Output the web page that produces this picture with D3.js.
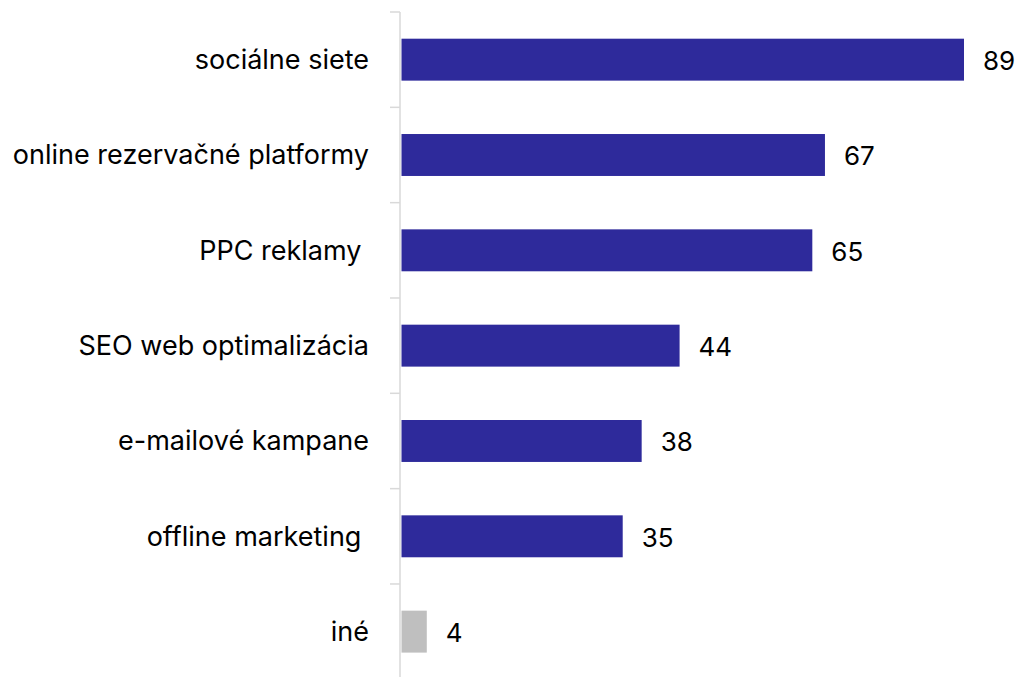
<!DOCTYPE html>
<html>
<head>
<meta charset="utf-8">
<script src="https://cdn.jsdelivr.net/npm/d3@7"></script>
<style>
  html, body { margin: 0; padding: 0; background: #fff; }
  svg text { font-family: "Inter", "Noto Sans", sans-serif; fill: #000; }
</style>
</head>
<body>
<svg id="chart" width="1020" height="677"></svg>
<script>
// Marketing channels and their counts
const categories = [
  "sociálne siete",
  "online rezervačné platformy",
  "PPC reklamy ",
  "SEO web optimalizácia",
  "e-mailové kampane",
  "offline marketing ",
  "iné"
];
const values = [89, 67, 65, 44, 38, 35, 4];
const barColors = ["#2E2A9B", "#2E2A9B", "#2E2A9B", "#2E2A9B", "#2E2A9B", "#2E2A9B", "#BFBFBF"];

const data = categories.map((c, i) => ({ cat: c, val: values[i], color: barColors[i] }));

const svg = d3.select("#chart");
const axisX = 400;

const x = d3.scaleLinear().domain([0, 89]).range([axisX + 1.5, 964]);
const y = d3.scaleBand().domain(categories).range([12, 679.3]).paddingInner(0.56).paddingOuter(0.28);

// category boundary ticks and the vertical axis line
const bandStep = y.step();
const boundaries = d3.range(categories.length + 1).map(i => 12 + i * bandStep);
svg.append("g").selectAll("line").data(boundaries).join("line")
  .attr("x1", axisX - 10).attr("x2", axisX)
  .attr("y1", d => d).attr("y2", d => d)
  .attr("stroke", "#d9d9d9").attr("stroke-width", 1.5);
svg.append("line")
  .attr("x1", axisX).attr("x2", axisX)
  .attr("y1", 12).attr("y2", 677)
  .attr("stroke", "#d9d9d9").attr("stroke-width", 1.5);

// bars
svg.append("g").selectAll("rect").data(data).join("rect")
  .attr("x", x(0))
  .attr("y", d => y(d.cat))
  .attr("width", d => x(d.val) - x(0))
  .attr("height", y.bandwidth())
  .attr("fill", d => d.color);

const mid = d => y(d.cat) + y.bandwidth() / 2;

// category labels
svg.append("g").selectAll("text").data(data).join("text")
  .attr("x", 369)
  .attr("y", d => mid(d) + 9.5)
  .attr("text-anchor", "end")
  .style("white-space", "pre")
  .style("font-size", "27px")
  .text(d => d.cat);

// value labels
svg.append("g").selectAll("text").data(data).join("text")
  .attr("x", d => x(d.val) + 19)
  .attr("y", d => mid(d) + 10.5)
  .style("font-size", "26px")
  .text(d => d.val);
</script>
</body>
</html>
